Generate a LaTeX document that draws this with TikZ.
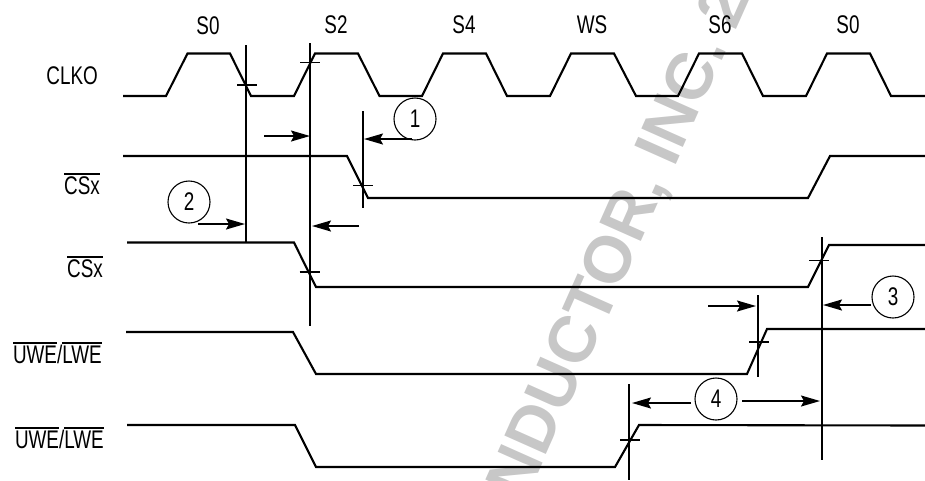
\documentclass[tikz,border=0pt]{standalone}
\usepackage{fontspec}
\setmainfont[FakeStretch=0.74]{Liberation Sans}
\newfontfamily\wmfont{Liberation Sans}
\usetikzlibrary{arrows.meta}
\newcommand\ovl[1]{\leavevmode\vbox{\hrule height 1.7pt\kern 1.6pt\hbox{#1}}}
\tikzset{
  wave/.style={line width=2.1pt,line join=miter},
  guide/.style={line width=1.9pt},
  tick/.style={line width=1.6pt},
  dim/.style={line width=1.6pt,-{Stealth[length=19pt,width=11pt,inset=3pt]}},
  lab/.style={inner sep=0pt,font=\fontsize{25.5}{26}\selectfont},
  sig/.style={lab,anchor=base east},
  num/.style={circle,draw,line width=1.1pt,minimum size=42pt,inner sep=0pt,font=\fontsize{25.5}{26}\selectfont},
  wm/.style={rotate=66,text=black!22,inner sep=0pt,font=\fontsize{66}{66}\bfseries\wmfont}
}
\begin{document}
\begin{tikzpicture}[x=1pt,y=-1pt]
\useasboundingbox (0,0) rectangle (925,480);
\begin{scope}
\clip (0,0) rectangle (925,480);
\node[wm] (mark) at (611,266) {ONDUCTOR, INC. 2};
\end{scope}
% state labels
\node[lab] (s0a) at (208,26) {S0};
\node[lab] (s2) at (336,25) {S2};
\node[lab] (s4) at (464,25) {S4};
\node[lab] (ws) at (592,25) {WS};
\node[lab] (s6) at (720,25) {S6};
\node[lab] (s0b) at (848,25) {S0};
% signal labels
\node[sig] (clko) at (98,84) {CLKO};
\node[sig] (cs1) at (100,194) {\ovl{CSx}};
\node[sig] (cs2) at (103,277) {\ovl{CSx}};
\node[sig] (uwe1) at (102,363) {\ovl{UWE}/\ovl{LWE}};
\node[sig] (uwe2) at (104,448) {\ovl{UWE}/\ovl{LWE}};
% waveforms
\draw[wave] (123,96)--(166,96)--(187.5,53.5)--(230,53.5)--(251,96)--(294,96)--(315,53.5)--(358,53.5)--(379.5,96)--(422,96)--(443,53.5)--(486,53.5)--(507,96)--(550,96)--(571,53.5)--(614,53.5)--(636,96)--(678,96)--(699,53.5)--(742,53.5)--(763,96)--(806,96)--(827,53.5)--(870,53.5)--(891,96)--(925,96);
\draw[wave] (123,156)--(347,156)--(368,198)--(808,198)--(830,156)--(925,156);
\draw[wave] (127,242.5)--(294,242.5)--(316,287)--(808,287)--(829,245)--(925,245);
\draw[wave] (126,332)--(293,332)--(316,374)--(747,374)--(767,329)--(925,329);
\draw[wave] (127,425)--(295,425)--(316,467)--(615,467)--(639,425)--(925,425.5);
% vertical reference lines
\coordinate (v1t) at (246,45); \coordinate (v1b) at (246,243);
\coordinate (v2t) at (310,43); \coordinate (v2b) at (310,326);
\coordinate (v3t) at (363,111); \coordinate (v3b) at (363,208);
\coordinate (v4t) at (822,237); \coordinate (v4b) at (822,460);
\coordinate (v5t) at (758,295); \coordinate (v5b) at (758,377);
\coordinate (v6t) at (629,384); \coordinate (v6b) at (629,480);
\foreach \n in {1,...,6} \draw[guide] (v\n t)--(v\n b);
% crossing ticks
\foreach \xa/\xb/\yy in {237/257/85, 300/320/62.5, 353/373/185.5, 299.5/319.5/272, 809/829/260.5, 749/769/342, 620/640/440}
  \draw[tick] (\xa,\yy)--(\xb,\yy);
% numbered circles
\node[num] (n1) at (415,119) {1};
\node[num] (n2) at (189,202) {2};
\node[num] (n3) at (893,297) {3};
\node[num] (n4) at (716,399) {4};
% dimension arrows
\coordinate (a1s) at (412,139); \coordinate (a1e) at (364,139);
\coordinate (a2s) at (264,136); \coordinate (a2e) at (310,136);
\coordinate (a3s) at (198,224); \coordinate (a3e) at (245,224);
\coordinate (a4s) at (359,226); \coordinate (a4e) at (312,226);
\coordinate (a5s) at (871,305); \coordinate (a5e) at (823,305);
\coordinate (a6s) at (708,306); \coordinate (a6e) at (756,306);
\coordinate (a7s) at (691,403); \coordinate (a7e) at (632,403);
\coordinate (a8s) at (742,401); \coordinate (a8e) at (820,401);
\foreach \n in {1,...,8} \draw[dim] (a\n s)--(a\n e);
\end{tikzpicture}
\end{document}
